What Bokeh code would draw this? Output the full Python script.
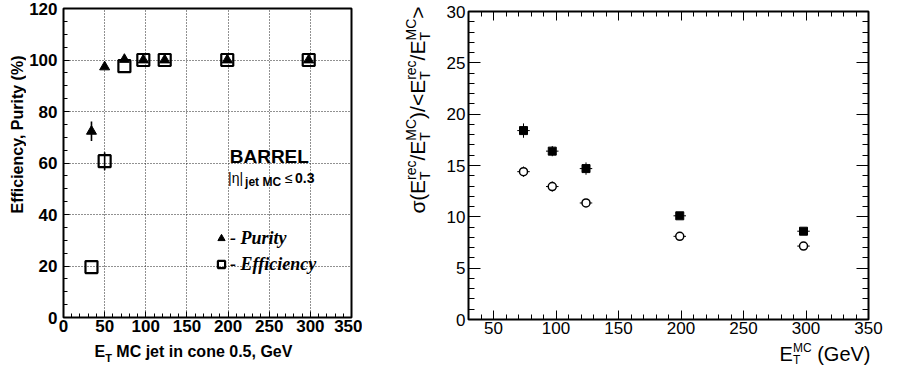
import math
from bokeh.plotting import figure
from bokeh.layouts import row, column
from bokeh.models import (Range1d, SingleIntervalTicker, LinearAxis, Label,
                          Legend, LegendItem, CustomJSTickFormatter)
from bokeh.embed import file_html
from bokeh.resources import INLINE

# ---------------- data: left panel (efficiency / purity) ----------------
et_left = [34, 50, 74, 97, 123, 199, 298]
purity = [72.3, 97.3, 100.2, 100.0, 100.0, 100.0, 100.0]
purity_err = [3.8, 0.0, 0.0, 0.0, 0.0, 0.0, 0.0]
efficiency = [19.6, 60.7, 97.6, 100.0, 100.0, 100.0, 100.0]
efficiency_err = [0.0, 3.5, 0.0, 0.0, 0.0, 0.0, 0.0]

# ---------------- data: right panel (resolution) ----------------
et_right = [74, 97, 124, 199, 298]
et_right_err = [5, 5, 5, 5, 5]
res_filled = [18.4, 16.4, 14.7, 10.1, 8.6]
res_filled_err = [0.7, 0.5, 0.6, 0.3, 0.25]
res_open = [14.4, 12.95, 11.35, 8.1, 7.15]
res_open_err = [0.5, 0.5, 0.3, 0.2, 0.2]

# ---------------- helpers for composed (sub/superscript) labels ----------------
ADV = {"σ": 0.6, "(": 0.333, ")": 0.333, "/": 0.278, "<": 0.584, ">": 0.584,
       "E": 0.667, "T": 0.611, "r": 0.333, "e": 0.556, "c": 0.5, "M": 0.833,
       "C": 0.722, " ": 0.278, "G": 0.778, "V": 0.667}
MID = 0.35   # baseline lies this many em below the text box centre


def adv(s, size):
    return sum(ADV.get(c, 0.556) for c in s) * size


def math_pieces(tokens, main, scr, sup_rise, sub_rise):
    pieces, pos = [], 0.0
    for tok in tokens:
        if isinstance(tok, str):
            pieces.append((tok, main, pos, 0))
            pos += adv(tok, main)
        else:
            sup, sub = tok
            if sup:
                pieces.append((sup, scr, pos, sup_rise))
            if sub:
                pieces.append((sub, scr, pos, sub_rise))
            pos += max(adv(sup, scr), adv(sub, scr))
    return pieces, pos


def add_pieces(p, pieces, sx, sy, angle=0.0, font="Liberation Sans",
               style="normal"):
    # sx, sy: baseline start, screen px from the canvas' bottom-left corner
    for text, size, along, rise in pieces:
        stripped = text.lstrip(" ")
        along = along + adv(" " * (len(text) - len(stripped)), size)
        if angle == 0.0:
            x, y = sx + along, sy + rise + MID * size
        else:
            x, y = sx - rise - MID * size, sy + along
        p.add_layout(Label(x=x, y=y, x_units="screen", y_units="screen",
                           text=stripped, text_font=font,
                           text_font_size=f"{size}px", text_font_style=style,
                           angle=angle, text_align="left",
                           text_baseline="middle", text_color="black"))


def text_fig(w, h):
    f = figure(width=w, height=h, title=None, x_axis_type=None,
               y_axis_type=None, x_range=Range1d(0, 1), y_range=Range1d(0, 1),
               output_backend="svg", toolbar_location=None,
               min_border_left=0, min_border_right=0,
               min_border_top=0, min_border_bottom=0, frame_align=False)
    f.outline_line_color = None
    f.background_fill_color = "white"
    f.border_fill_color = "white"
    return f


# ================= LEFT PANEL =================
pL = figure(width=336, height=340, title=None,
            x_range=Range1d(0, 350), y_range=Range1d(0, 120),
            output_backend="svg", toolbar_location=None, frame_align=False,
            min_border_left=35, min_border_right=11,
            min_border_top=8, min_border_bottom=23)
pL.outline_line_color = "black"
pL.outline_line_width = 2
pL.background_fill_color = "white"
pL.border_fill_color = "white"

pL.xaxis.ticker = SingleIntervalTicker(interval=50, num_minor_ticks=5)
pL.yaxis.ticker = SingleIntervalTicker(interval=20, num_minor_ticks=4)
for ax in (pL.xaxis[0], pL.yaxis[0]):
    ax.axis_line_color = None
    ax.major_tick_in = 6
    ax.major_tick_out = 0
    ax.minor_tick_in = 4
    ax.minor_tick_out = 0
    ax.major_tick_line_color = "black"
    ax.minor_tick_line_color = "black"
    ax.major_label_text_font = "Liberation Sans"
    ax.major_label_text_font_style = "bold"
    ax.major_label_text_font_size = "17px"
    ax.major_label_text_color = "black"
pL.yaxis.major_label_standoff = 6
pL.xaxis.major_label_standoff = 2

for g in (pL.xgrid[0], pL.ygrid[0]):
    g.grid_line_color = "#222222"
    g.grid_line_dash = "1 2"
    g.grid_line_width = 1
pL.xgrid.ticker = SingleIntervalTicker(interval=50)
pL.ygrid.ticker = SingleIntervalTicker(interval=20)

# error bars
pL.segment(x0=et_left, y0=[v - e for v, e in zip(purity, purity_err)],
           x1=et_left, y1=[v + e for v, e in zip(purity, purity_err)],
           line_color="black", line_width=1.6)
pL.segment(x0=et_left, y0=[v - e for v, e in zip(efficiency, efficiency_err)],
           x1=et_left, y1=[v + e for v, e in zip(efficiency, efficiency_err)],
           line_color="black", line_width=1.6)
r_eff = pL.scatter(et_left, efficiency, marker="square", size=12,
                   fill_color=None, line_color="black", line_width=2.2)
r_pur = pL.scatter(et_left, purity, marker="triangle", size=10,
                   fill_color="black", line_color="black")

legend = Legend(items=[LegendItem(label="- Purity", renderers=[r_pur]),
                       LegendItem(label="- Efficiency", renderers=[r_eff])],
                location=(149, 40), orientation="vertical",
                glyph_width=18, glyph_height=26, spacing=0, padding=0,
                margin=0, label_standoff=0, border_line_color=None,
                background_fill_alpha=0,
                label_text_font="Liberation Serif",
                label_text_font_style="bold italic",
                label_text_font_size="18px", label_text_color="black")
pL.add_layout(legend)

# BARREL text block (data anchor, baseline-corrected)
pL.add_layout(Label(x=202, y=59.8, y_offset=MID * 19, text="BARREL",
                    text_font="Liberation Sans", text_font_style="bold",
                    text_font_size="19px", text_baseline="middle",
                    text_color="black"))
eta_pieces = [("|η|", 14, "normal", 0, 0),
              ("jet MC", 12, "bold", 17, -3),
              ("≤", 14, "normal", 57, 0),
              ("0.3", 14, "bold", 67, 0)]
for text, size, style, along, rise in eta_pieces:
    pL.add_layout(Label(x=200, y=52.2, text=text, text_font="Liberation Sans",
                        text_font_style=style, text_font_size=f"{size}px",
                        x_offset=along, y_offset=rise + MID * size,
                        text_baseline="middle", text_color="black"))

# left y title strip (26 x 367)
yL = text_fig(26, 367)
add_pieces(yL, [("Efficiency, Purity (%)", 16, 0, 0)], 22.5, 154,
           angle=math.pi / 2, style="bold")

# left x title strip (336 x 27)
xL = text_fig(336, 27)
xl_pieces = [("E", 16, 0, 0), ("T", 11, 10.7, -4),
             (" MC jet in cone 0.5, GeV", 16, 17.4, 0)]
add_pieces(xL, xl_pieces, 68, 10, style="bold")

# ================= RIGHT PANEL =================
pR = figure(width=481, height=340, title=None,
            x_range=Range1d(30, 350), y_range=Range1d(0, 30),
            output_backend="svg", toolbar_location=None, frame_align=False,
            min_border_left=32, min_border_right=49,
            min_border_top=11, min_border_bottom=21)
pR.outline_line_color = "black"
pR.outline_line_width = 2
pR.background_fill_color = "white"
pR.border_fill_color = "white"
pR.grid.visible = False

blank = CustomJSTickFormatter(code="return ''")
pR.add_layout(LinearAxis(formatter=blank, major_label_standoff=0), "above")
pR.add_layout(LinearAxis(formatter=blank, major_label_standoff=0), "right")
for ax in pR.xaxis:
    ax.ticker = SingleIntervalTicker(interval=50, num_minor_ticks=5)
    ax.major_tick_in = 9
    ax.minor_tick_in = 5
for ax in pR.yaxis:
    ax.ticker = SingleIntervalTicker(interval=5, num_minor_ticks=5)
    ax.major_tick_in = 12
    ax.minor_tick_in = 6
for ax in list(pR.xaxis) + list(pR.yaxis):
    ax.axis_line_color = None
    ax.major_tick_out = 0
    ax.minor_tick_out = 0
    ax.major_tick_line_color = "black"
    ax.minor_tick_line_color = "black"
    ax.major_label_text_font = "Liberation Sans"
    ax.major_label_text_font_size = "17px"
    ax.major_label_text_color = "black"
pR.below[0].major_label_standoff = 2
pR.left[0].major_label_standoff = 3

# error bars then markers
for vals, errs in ((res_filled, res_filled_err), (res_open, res_open_err)):
    pR.segment(x0=[x - e for x, e in zip(et_right, et_right_err)], y0=vals,
               x1=[x + e for x, e in zip(et_right, et_right_err)], y1=vals,
               line_color="black", line_width=1)
    pR.segment(x0=et_right, y0=[v - e for v, e in zip(vals, errs)],
               x1=et_right, y1=[v + e for v, e in zip(vals, errs)],
               line_color="black", line_width=1)
pR.scatter(et_right, res_filled, marker="square", size=8,
           fill_color="black", line_color="black")
pR.scatter(et_right, res_open, marker="circle", size=8,
           fill_color="white", line_color="black", line_width=1.5)

# right y title strip (74 x 367)
yR = text_fig(74, 367)
ytokens = ["σ(", "E", ("rec", "T"), "/", "E", ("MC", "T"), ")/<",
           "E", ("rec", "T"), "/", "E", ("MC", "T"), ">"]
yp, ylen = math_pieces(ytokens, 21, 14, 9, -5)
add_pieces(yR, yp, 62, 361 - ylen, angle=math.pi / 2)

# right x title strip (481 x 27)
xR = text_fig(481, 27)
xtokens = ["E", ("MC", "T"), " (GeV)"]
xp, xlen = math_pieces(xtokens, 20, 12, 8, -4)
add_pieces(xR, xp, 434 - xlen, 7)

layout = row(yL, column(pL, xL), yR, column(pR, xR))
open("out.html", "w").write(file_html(layout, INLINE))
